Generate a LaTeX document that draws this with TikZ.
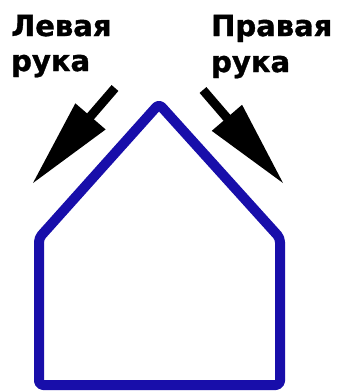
\documentclass[tikz,border=0pt]{standalone}
\usepackage{fontspec}
\newfontfamily\labelfont[FakeBold=1.2]{DejaVu Sans}
\usetikzlibrary{calc}
\definecolor{houseblue}{RGB}{24,14,170}
\begin{document}
\begin{tikzpicture}[x=1pt,y=-1pt,
  lbl/.style={anchor=base west,inner sep=0pt,font=\labelfont\bfseries\fontsize{29}{29}\selectfont},
  house/.style={draw=houseblue,line width=10pt,rounded corners=4pt,line join=round},
  shaft/.style={line width=9pt,line cap=butt,draw=black},
  head/.style={fill=black,draw=none}]
\useasboundingbox (0,0) rectangle (339,392);
\fill[white] (0,0) rectangle (339,392);
% labels
\node[lbl] (l1) at (11,36) {Левая};
\node[lbl] (l2) at (11,71) {рука};
\node[lbl] (r1) at (211,36) {Правая};
\node[lbl] (r2) at (211,72) {рука};
% house
\draw[house] (159,104) -- (280,238) -- (280,385) -- (39,385) -- (39,238) -- cycle;
% left arrow
\coordinate (lt) at (115,88);
\coordinate (lp) at (33,183);
\coordinate (lb) at ($(lp)!88pt!(lt)$);
\draw[shaft] (lt) -- ($(lp)!80pt!(lt)$);
\fill[head] (lp) -- ($(lb)!20pt!90:(lp)$) -- ($(lb)!20pt!-90:(lp)$) -- cycle;
% right arrow
\coordinate (rt) at (203,90);
\coordinate (rp) at (283,183);
\coordinate (rb) at ($(rp)!86pt!(rt)$);
\draw[shaft] (rt) -- ($(rp)!80pt!(rt)$);
\fill[head] (rp) -- ($(rb)!20pt!90:(rp)$) -- ($(rb)!20pt!-90:(rp)$) -- cycle;
\end{tikzpicture}
\end{document}
